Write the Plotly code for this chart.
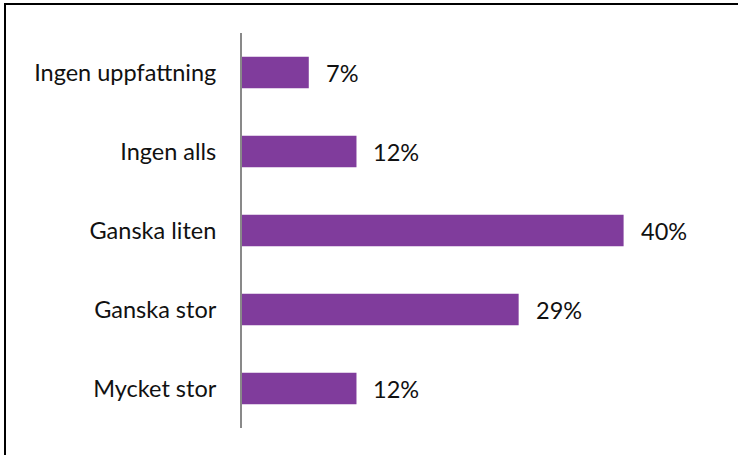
import plotly.graph_objects as go

categories = ["Mycket stor", "Ganska stor", "Ganska liten", "Ingen alls", "Ingen uppfattning"]
values = [12, 29, 40, 12, 7]
labels = ["12%", "29%", "40%", "12%", "7%"]

BAR_COLOR = "#803C9C"
FONT = "Lato"
FS = 23.5

W, H = 740, 455
L, R, T, B = 242, 21, 33, 27
pw, ph = W - L - R, H - T - B

def px_x(x):
    return (x - L) / pw

def px_y(y):
    return 1 - (y - T) / ph

fig = go.Figure()
fig.add_trace(go.Bar(
    y=categories, x=values, orientation="h",
    marker=dict(color=BAR_COLOR, line=dict(width=0)),
    hoverinfo="skip",
))

for c, v, t in zip(categories, values, labels):
    fig.add_annotation(x=v, y=c, text=t, showarrow=False, xanchor="left",
                       xshift=15, font=dict(family=FONT, size=FS, color="#111111"))

# outer frame (left and top edges)
fig.add_shape(type="line", xref="paper", yref="paper", x0=px_x(4), x1=px_x(738), y0=px_y(4), y1=px_y(4),
              line=dict(color="#000000", width=2))
fig.add_shape(type="line", xref="paper", yref="paper", x0=px_x(5), x1=px_x(5), y0=px_y(4), y1=px_y(460),
              line=dict(color="#000000", width=2))

fig.update_layout(
    width=W, height=H,
    margin=dict(l=L, r=R, t=T, b=B),
    paper_bgcolor="white", plot_bgcolor="white",
    showlegend=False, bargap=0.6,
    font=dict(family=FONT, size=FS, color="#111111"),
)
fig.update_xaxes(range=[0, 50], visible=False, showgrid=False, zeroline=False)
fig.update_yaxes(showline=True, linecolor="#898989", linewidth=2, ticks="",
                 ticklabelstandoff=19, showgrid=False, zeroline=False,
                 categoryorder="array", categoryarray=categories,
                 tickfont=dict(family=FONT, size=FS, color="#111111"))

fig.write_html("out.html", config={"displayModeBar": False},
               post_script="document.body.style.margin='0';document.body.style.overflow='hidden';")
